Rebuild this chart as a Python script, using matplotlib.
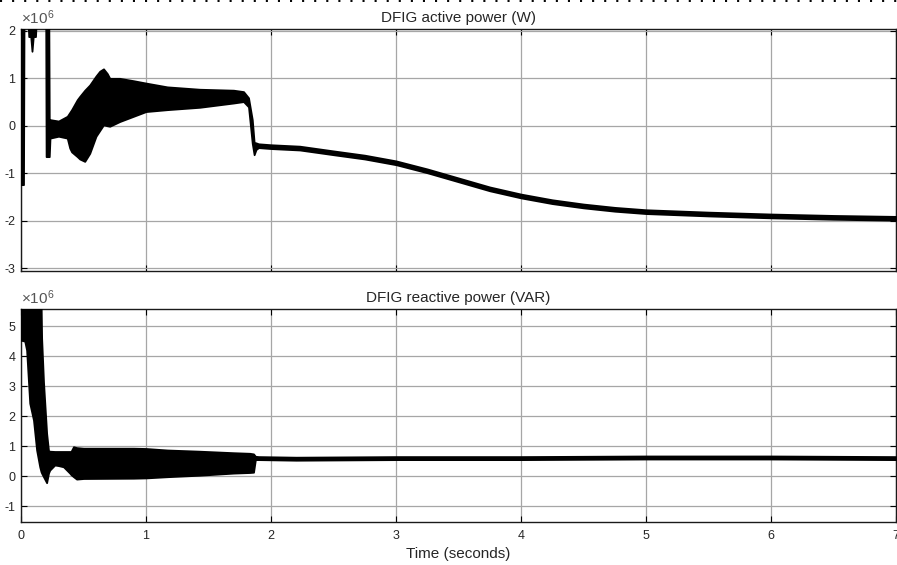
import matplotlib
matplotlib.use("Agg")
import matplotlib.pyplot as plt
from matplotlib.lines import Line2D

# DFIG active power, envelope of the trace (x1e6 W)
t_active = [0.000, 0.020, 0.024, 0.058, 0.062, 0.078, 0.088, 0.098, 0.116, 0.120,
            0.198, 0.201, 0.222, 0.226, 0.232, 0.30, 0.37, 0.39, 0.405, 0.45, 0.47,
            0.51, 0.55, 0.60, 0.63, 0.66, 0.69, 0.71, 0.79, 0.90, 1.00, 1.17, 1.43,
            1.70, 1.78, 1.82, 1.85, 1.865, 1.88, 1.90, 2.00, 2.23, 2.50, 2.75, 3.00,
            3.25, 3.50, 3.75, 4.00, 4.25, 4.50, 4.75, 5.00, 5.50, 6.00, 6.50, 7.00]
active_hi = [2.5, 2.5, 2.5, 2.5, 2.5, 2.5, 2.5, 2.5, 2.5, 2.5,
             2.5, 2.5, 2.5, 0.13, 0.13, 0.10, 0.20, 0.28, 0.34, 0.55, 0.62,
             0.75, 0.86, 1.05, 1.15, 1.20, 1.10, 1.00, 1.00, 0.95, 0.90, 0.82, 0.77,
             0.75, 0.72, 0.59, 0.13, -0.35, -0.36, -0.38, -0.40, -0.43, -0.53, -0.62, -0.74,
             -0.91, -1.10, -1.29, -1.44, -1.56, -1.65, -1.72, -1.77, -1.82, -1.86, -1.89, -1.91]
active_lo = [-1.24, -1.24, 2.1, 2.1, 1.88, 1.88, 1.57, 1.88, 1.88, 2.1,
             2.1, -0.65, -0.65, -0.65, -0.26, -0.22, -0.26, -0.47, -0.55, -0.65, -0.70,
             -0.75, -0.58, -0.22, -0.10, 0.02, 0.00, -0.01, 0.09, 0.20, 0.30, 0.34, 0.39,
             0.48, 0.51, 0.40, -0.37, -0.61, -0.50, -0.46, -0.48, -0.51, -0.61, -0.70, -0.82,
             -0.99, -1.18, -1.37, -1.52, -1.64, -1.73, -1.80, -1.85, -1.90, -1.94, -1.97, -1.99]

# DFIG reactive power, envelope of the trace (x1e6 VAR)
t_reactive = [0.000, 0.030, 0.045, 0.070, 0.100, 0.125, 0.150, 0.160, 0.165, 0.180,
              0.205, 0.220, 0.230, 0.270, 0.300, 0.340, 0.390, 0.400, 0.420, 0.445,
              0.50, 0.90, 1.00, 1.17, 1.43, 1.70, 1.83, 1.86, 1.875, 1.90, 2.20,
              3.00, 4.00, 5.00, 6.00, 7.00]
reactive_hi = [6.0, 6.0, 6.0, 6.0, 6.0, 6.0, 6.0, 6.0, 4.60, 3.14,
               1.43, 0.85, 0.83, 0.82, 0.82, 0.82, 0.82, 0.82, 0.98, 0.95,
               0.93, 0.93, 0.92, 0.87, 0.83, 0.78, 0.76, 0.74, 0.66, 0.65, 0.63,
               0.65, 0.65, 0.67, 0.67, 0.65]
reactive_lo = [4.53, 4.50, 4.20, 2.43, 1.87, 0.87, 0.31, 0.15, 0.10, -0.02,
               -0.22, 0.10, 0.20, 0.37, 0.35, 0.31, 0.10, 0.05, -0.02, -0.10,
               -0.08, -0.07, -0.06, -0.02, 0.03, 0.10, 0.12, 0.13, 0.55, 0.55, 0.53,
               0.55, 0.55, 0.57, 0.57, 0.55]

time_ticks = [0, 1, 2, 3, 4, 5, 6, 7]
active_yticks = [-3, -2, -1, 0, 1, 2]
reactive_yticks = [-1, 0, 1, 2, 3, 4, 5]

plt.rcParams["font.family"] = ["Liberation Sans", "DejaVu Sans"]
plt.rcParams["axes.unicode_minus"] = False
plt.rcParams["lines.scale_dashes"] = False
plt.rcParams["mathtext.fontset"] = "custom"
plt.rcParams["mathtext.rm"] = "Liberation Sans"
txtcol = "#262626"


def scope_axes(ax, title, yticks, ylim):
    ax.set_xlim(0, 7)
    ax.set_ylim(*ylim)
    ax.set_xticks(time_ticks)
    ax.set_yticks(yticks)
    ax.grid(True, color="#a6a6a6", linewidth=0.9)
    ax.set_axisbelow(True)
    ax.tick_params(direction="in", top=True, right=True, length=4, width=0.8,
                   labelsize=9, labelcolor=txtcol, pad=4)
    ax.tick_params(axis="x", pad=6)
    for s in ax.spines.values():
        s.set_linewidth(1.0)
        s.set_color("#1a1a1a")
    ax.set_title(title, fontsize=11, color=txtcol, pad=5)
    # scope multiplier, values are in units of 1e6
    ax.text(0.0, 1.008, r"$\times\mathregular{10^{6}}$", transform=ax.transAxes,
            fontsize=11, color="#555555", ha="left", va="bottom")


def trace(ax, t, hi, lo):
    ax.fill_between(t, lo, hi, facecolor="black", edgecolor="black",
                    linewidth=1.3, zorder=3)


fig = plt.figure(figsize=(8.97, 5.65), dpi=100)

ax1 = fig.add_axes([0.0234, 0.5204, 0.9755, 0.4283])
trace(ax1, t_active, active_hi, active_lo)
scope_axes(ax1, "DFIG active power (W)", active_yticks, (-3.06, 2.04))
ax1.set_xticklabels([])

ax2 = fig.add_axes([0.0234, 0.0761, 0.9755, 0.377])
trace(ax2, t_reactive, reactive_hi, reactive_lo)
scope_axes(ax2, "DFIG reactive power (VAR)", reactive_yticks, (-1.53, 5.57))
ax2.set_xlabel("Time (seconds)", fontsize=11, color=txtcol, labelpad=3)

# ruler marks along the top edge of the screenshot
fig.add_artist(Line2D([0, 1], [0.9985, 0.9985], transform=fig.transFigure,
                      color="black", linewidth=1.4, dashes=(1.5, 7.2)))

plt.savefig("out.png", dpi=100)
